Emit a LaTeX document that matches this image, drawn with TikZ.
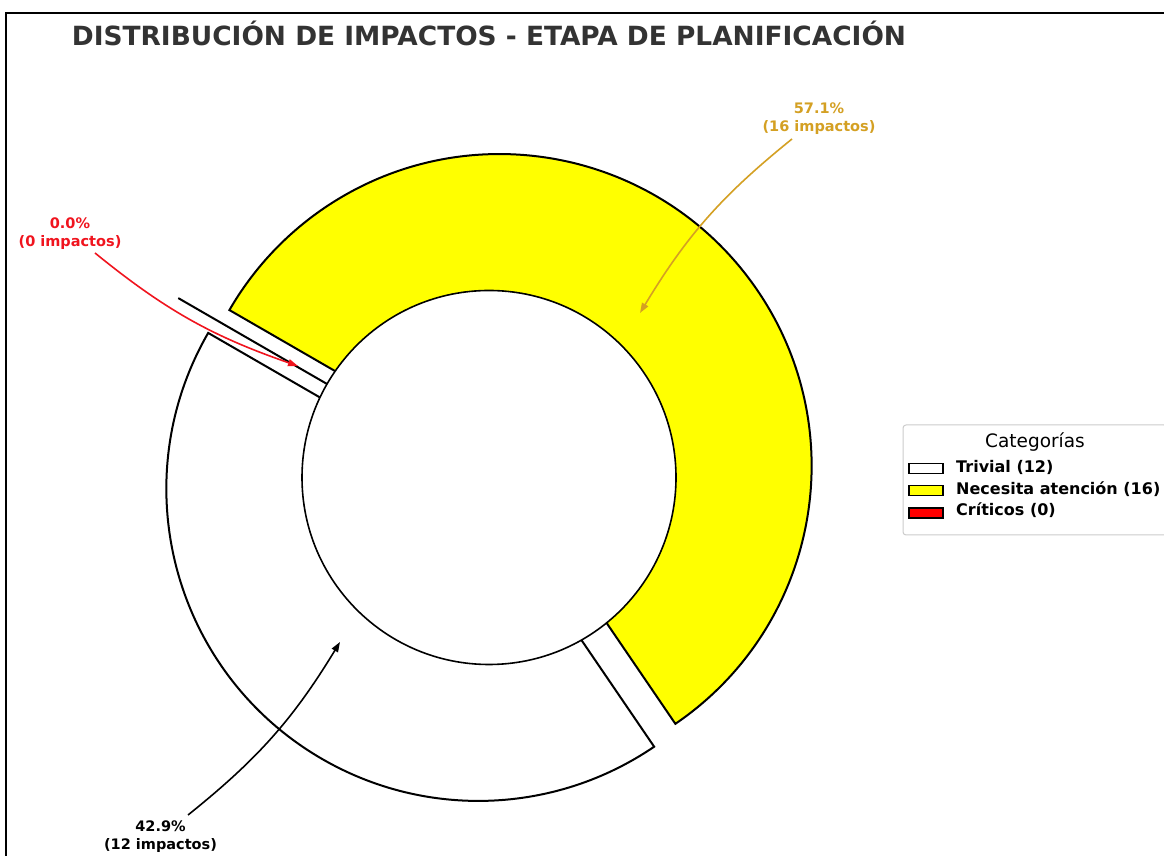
\documentclass[tikz,border=0pt]{standalone}
\usepackage{fontspec}
\setmainfont{DejaVu Sans}
\usetikzlibrary{arrows.meta,calc}
\definecolor{titlegray}{RGB}{51,51,51}
\definecolor{gold}{RGB}{212,160,35}
\definecolor{legedge}{RGB}{204,204,204}
\definecolor{pieyellow}{RGB}{255,255,0}
\definecolor{piered}{RGB}{255,0,0}
\definecolor{labred}{RGB}{240,20,30}
\begin{document}
\begin{tikzpicture}[x=1pt,y=1pt,
  wedge/.style={draw=black, line width=2pt, line join=miter},
  lab/.style={font=\bfseries\fontsize{14.5}{18}\selectfont, align=center, inner sep=0pt},
  arr/.style={line width=1.6pt, -{Triangle[length=10pt,width=7pt]}},
  legtext/.style={font=\bfseries\fontsize{16}{19}\selectfont, inner sep=0pt, anchor=base west},
  patch/.style={draw=black, line width=1.5pt}]
\useasboundingbox (0,0) rectangle (1164,856);
\begin{scope}
\clip (0,0) rectangle (1164,856);
\fill[white] (0,0) rectangle (1164,856);
% frame
\draw[line width=2.2pt] (6,-5) -- (6,843) -- (1175,843);
% title
\node[font=\bfseries\fontsize{26.4}{30}\selectfont, text=titlegray, anchor=base, inner sep=0pt] (title) at (489,810.5) {DISTRIBUCIÓN DE IMPACTOS - ETAPA DE PLANIFICACIÓN};
% donut
\coordinate (C) at (489,378.5);
\coordinate (Tc) at ($(C)+(227.14:15.6)$);
\coordinate (Yc) at ($(C)+(47.14:15.6)$);
\coordinate (Kc) at ($(C)+(150:46.8)$);
\draw[wedge, fill=white] (Tc) -- ($(Tc)+(150:312)$) arc[start angle=150, end angle=304.29, radius=312] -- cycle;
\draw[wedge, fill=pieyellow] (Yc) -- ($(Yc)+(304.29:312)$) arc[start angle=304.29, end angle=510, radius=312] -- cycle;
\draw[wedge, fill=piered] (Kc) -- ($(Kc)+(150:312)$);
\draw[line width=1.6pt, fill=white] (C) circle[radius=187];
% labels
\node[lab, text=gold] (l57) at (819,737) {57.1\%\\(16 impactos)};
\node[lab, text=labred] (l0) at (70,622.5) {0.0\%\\(0 impactos)};
\node[lab, text=black] (l42) at (160.5,19.5) {42.9\%\\(12 impactos)};
\coordinate (a57s) at (792,717); \coordinate (a57e) at (640,543);
\coordinate (a0s) at (95,603); \coordinate (a0e) at (298,490);
\coordinate (a42s) at (188,41); \coordinate (a42e) at (340,214);
\draw[arr, gold] (a57s) to[bend right=10] (a57e);
\draw[arr, labred] (a0s) to[bend right=10] (a0e);
\draw[arr, black] (a42s) to[bend right=10] (a42e);
% legend
\draw[legedge, line width=1pt, rounded corners=3pt, fill=white] (903,431) rectangle (1167,321);
\node[font=\fontsize{18.5}{22}\selectfont, anchor=base, inner sep=0pt] (legt) at (1035,408.3) {Categorías};
\draw[patch, fill=white] (909,382.5) rectangle (943,392.5);
\draw[patch, fill=pieyellow] (909,360.5) rectangle (943,370.5);
\draw[patch, fill=piered] (909,338) rectangle (943,348);
\node[legtext] (lg1) at (956,383.5) {Trivial (12)};
\node[legtext] (lg2) at (956,361.7) {Necesita atención (16)};
\node[legtext] (lg3) at (956,340) {Críticos (0)};
\end{scope}
\end{tikzpicture}
\end{document}
